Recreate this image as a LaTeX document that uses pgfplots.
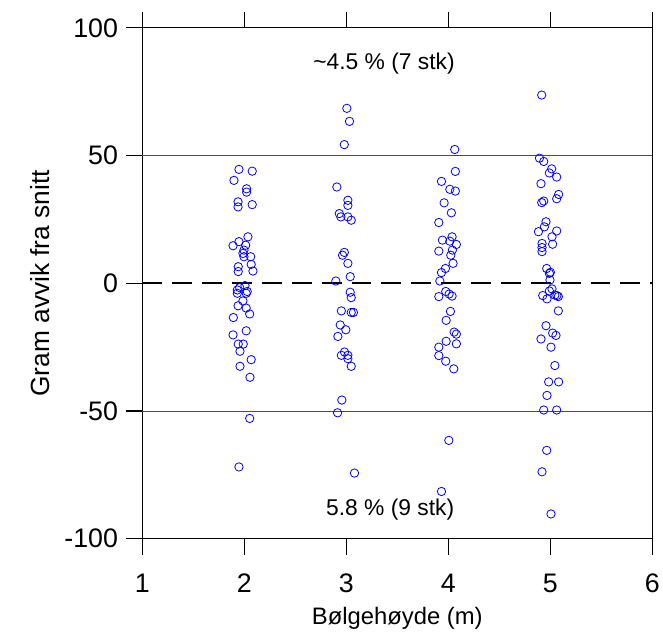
\documentclass[border=0pt]{standalone}
\usepackage{pgfplots}
\pgfplotsset{compat=1.18}
\usepackage{fontspec}
\setmainfont{Liberation Sans}
\definecolor{ptblue}{RGB}{0,0,255}
\begin{document}
\begin{tikzpicture}
\begin{axis}[
  name=ax,
  scale only axis,
  width=512bp, height=513bp,
  xmin=1, xmax=6, ymin=-100, ymax=100,
  xtick={1,2,3,4,5,6},
  ytick={-100,-50,0,50,100},
  tick align=outside,
  xtick pos=both,
  ytick pos=left,
  major tick length=16bp,
  xticklabel pos=lower,
  axis line style={line width=1.2bp},
  tick style={line width=1.2bp, black},
  /pgf/number format/assume math mode=true,
  ticklabel style={font=\fontsize{27}{30}\selectfont},
  xticklabel style={yshift=-16bp},
  yticklabel style={xshift=-5bp},
  xlabel style={font=\fontsize{24}{27}\selectfont, yshift=-7bp},
  ylabel style={font=\fontsize{26.5}{29}\selectfont, yshift=8bp},
  xlabel={Bølgehøyde (m)},
  ylabel={Gram avvik fra snitt},
  clip=false,
]
\addplot[gray!60!black, line width=0.8bp, forget plot] coordinates {(1,50)(6,50)};
\addplot[gray!60!black, line width=0.8bp, forget plot] coordinates {(1,-50)(6,-50)};
\addplot[black, line width=2bp, dash pattern=on 20bp off 10bp, forget plot] coordinates {(1,0)(6,0)};
\addplot[only marks, mark=o, mark size=4.2bp, mark options={ptblue, line width=0.8bp}] coordinates {
(1.947,44.6)(2.077,43.9)(1.898,40.3)(2.022,37.0)(2.022,35.7)(1.938,31.9)(1.938,29.9)(2.077,30.8)(2.035,18.2)(1.947,16.3)(1.889,14.7)(2.013,14.9)(1.996,13.0)(1.986,11.7)(1.996,10.4)(2.062,10.4)(2.067,7.4)(1.940,6.5)(1.940,4.6)(2.084,4.8)(2.006,-0.9)(1.954,-1.7)(1.931,-3.9)(2.018,-3.9)(1.986,-6.9)(1.938,-8.8)(2.018,-9.7)(2.052,-12.0)(1.892,-13.4)(2.018,-18.6)(1.889,-20.2)(1.940,-23.8)(1.989,-23.8)(1.957,-26.6)(2.067,-29.9)(1.957,-32.5)(2.055,-36.8)(2.052,-52.9)(1.947,-71.9)(1.931,-2.6)(2.028,-3.2)
};
\addplot[only marks, mark=o, mark size=4.2bp, mark options={ptblue, line width=0.8bp}] coordinates {
(3.005,68.5)(3.031,63.4)(2.980,54.3)(2.907,37.7)(3.015,32.5)(3.015,30.5)(2.931,27.3)(2.946,26.0)(3.015,26.0)(3.048,24.7)(2.980,12.1)(2.963,11.0)(3.015,7.8)(3.038,2.6)(2.897,0.9)(3.038,-3.5)(3.048,-5.6)(2.951,-10.8)(3.048,-11.4)(3.070,-11.4)(2.940,-16.3)(2.995,-18.2)(2.917,-20.8)(2.982,-26.9)(2.951,-28.2)(3.015,-28.2)(3.015,-29.5)(3.048,-32.5)(2.956,-45.7)(2.914,-50.7)(3.080,-74.3)
};
\addplot[only marks, mark=o, mark size=4.2bp, mark options={ptblue, line width=0.8bp}] coordinates {
(4.063,52.4)(4.069,43.8)(3.933,39.9)(4.015,36.8)(4.069,36.1)(3.959,31.5)(4.030,27.6)(3.907,23.8)(4.037,18.2)(3.942,16.9)(4.015,16.5)(4.079,15.2)(4.040,13.0)(3.907,12.6)(4.024,11.0)(4.047,7.8)(3.972,5.8)(3.933,4.2)(3.917,0.9)(3.975,-3.2)(4.008,-4.2)(4.037,-5.0)(3.907,-5.2)(4.021,-11.0)(3.979,-14.5)(4.057,-19.1)(4.079,-19.9)(3.979,-22.7)(4.079,-23.7)(3.907,-25.0)(3.907,-28.3)(3.975,-30.5)(4.054,-33.5)(4.005,-61.5)(3.933,-81.5)
};
\addplot[only marks, mark=o, mark size=4.2bp, mark options={ptblue, line width=0.8bp}] coordinates {
(4.916,73.7)(4.894,49.0)(4.936,47.7)(5.014,44.8)(4.991,43.2)(5.063,41.6)(4.909,39.0)(5.082,34.8)(5.063,33.1)(4.936,32.2)(4.916,31.6)(4.958,24.1)(4.942,22.1)(4.884,20.2)(5.063,20.5)(5.017,18.2)(5.023,15.3)(4.919,15.6)(4.919,14.0)(4.919,12.4)(4.965,5.8)(5.001,4.3)(4.991,3.9)(4.997,1.3)(5.017,-2.2)(4.991,-3.0)(4.926,-4.8)(4.968,-6.1)(5.045,-4.6)(5.065,-4.8)(5.079,-5.2)(5.079,-10.8)(4.958,-16.6)(5.023,-19.5)(5.056,-20.4)(4.909,-21.8)(5.007,-25.0)(5.045,-32.2)(4.984,-38.6)(5.082,-38.6)(4.968,-43.9)(4.936,-49.6)(5.063,-49.6)(4.965,-65.4)(4.919,-73.8)(5.007,-90.3)
};
\node[font=\fontsize{23}{26}\selectfont] at (axis cs:3.37,86) {\textasciitilde4.5 \% (7 stk)};
\node[font=\fontsize{23}{26}\selectfont] at (axis cs:3.43,-88.5) {5.8 \% (9 stk)};
\end{axis}
\path ([shift={(-143bp,-100bp)}]ax.south west) rectangle ([shift={(8bp,28bp)}]ax.north east);
\end{tikzpicture}
\end{document}
